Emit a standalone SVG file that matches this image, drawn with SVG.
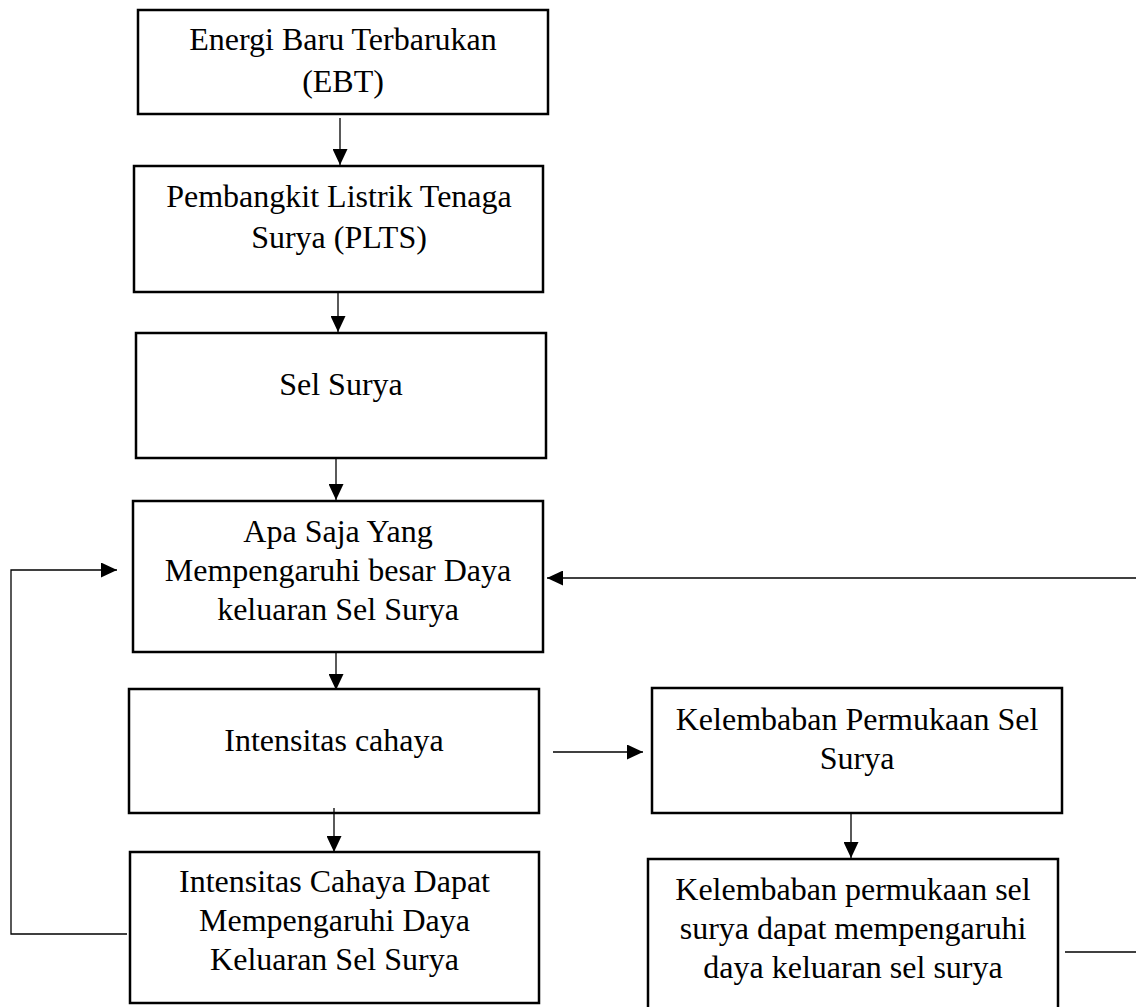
<svg xmlns="http://www.w3.org/2000/svg" width="1136" height="1007" viewBox="0 0 1136 1007">
<style>
.box{fill:#fff;stroke:#000;stroke-width:2.5}
.lbl{font-family:"Liberation Serif","Times New Roman",serif;font-size:32px;fill:#000;text-anchor:middle}
.con{fill:none;stroke:#000;stroke-width:1.3}
</style>
<defs>
<marker id="ah" markerUnits="userSpaceOnUse" markerWidth="16" markerHeight="15" refX="16" refY="7.5" orient="auto">
<path d="M0,0 L16,7.5 L0,15 Z" fill="#000"/>
</marker>
</defs>
<rect width="1136" height="1007" fill="#fff"/>
<g id="n1"><rect class="box" x="138" y="10" width="410" height="104"/>
<text class="lbl" x="343" y="50">Energi Baru Terbarukan</text><text class="lbl" x="343" y="92">(EBT)</text></g>
<g id="n2"><rect class="box" x="134" y="166" width="409" height="126"/>
<text class="lbl" x="339" y="207">Pembangkit Listrik Tenaga</text><text class="lbl" x="339" y="248">Surya (PLTS)</text></g>
<g id="n3"><rect class="box" x="136" y="333" width="410" height="125"/>
<text class="lbl" x="341" y="395">Sel Surya</text></g>
<g id="n4"><rect class="box" x="133" y="501" width="410" height="151"/>
<text class="lbl" x="338" y="542">Apa Saja Yang</text><text class="lbl" x="338" y="581">Mempengaruhi besar Daya</text><text class="lbl" x="338" y="620">keluaran Sel Surya</text></g>
<g id="n5"><rect class="box" x="129" y="689" width="410" height="124"/>
<text class="lbl" x="334" y="751">Intensitas cahaya</text></g>
<g id="n6"><rect class="box" x="130" y="852" width="409" height="151"/>
<text class="lbl" x="334.5" y="892">Intensitas Cahaya Dapat</text><text class="lbl" x="334.5" y="931">Mempengaruhi Daya</text><text class="lbl" x="334.5" y="970">Keluaran Sel Surya</text></g>
<g id="n7"><rect class="box" x="652" y="688" width="410" height="125"/>
<text class="lbl" x="857" y="730">Kelembaban Permukaan Sel</text><text class="lbl" x="857" y="769">Surya</text></g>
<g id="n8"><rect class="box" x="648" y="859" width="410" height="160"/>
<text class="lbl" x="853" y="900">Kelembaban permukaan sel</text><text class="lbl" x="853" y="939">surya dapat mempengaruhi</text><text class="lbl" x="853" y="978">daya keluaran sel surya</text></g>
<g id="connectors">
<line class="con" x1="340" y1="118" x2="340" y2="165" marker-end="url(#ah)"/>
<line class="con" x1="338" y1="292" x2="338" y2="332" marker-end="url(#ah)"/>
<line class="con" x1="336" y1="458" x2="336" y2="500" marker-end="url(#ah)"/>
<line class="con" x1="336" y1="652" x2="336" y2="690" marker-end="url(#ah)"/>
<line class="con" x1="334" y1="808" x2="334" y2="852" marker-end="url(#ah)"/>
<line class="con" x1="553" y1="752" x2="643" y2="752" marker-end="url(#ah)"/>
<line class="con" x1="851" y1="813" x2="851" y2="858" marker-end="url(#ah)"/>
<polyline class="con" points="127,934 11,934 11,570 117,570" marker-end="url(#ah)"/>
<line class="con" x1="1136" y1="578" x2="547" y2="578" marker-end="url(#ah)"/>
<line class="con" x1="1065" y1="952" x2="1136" y2="952"/>
</g>
</svg>
